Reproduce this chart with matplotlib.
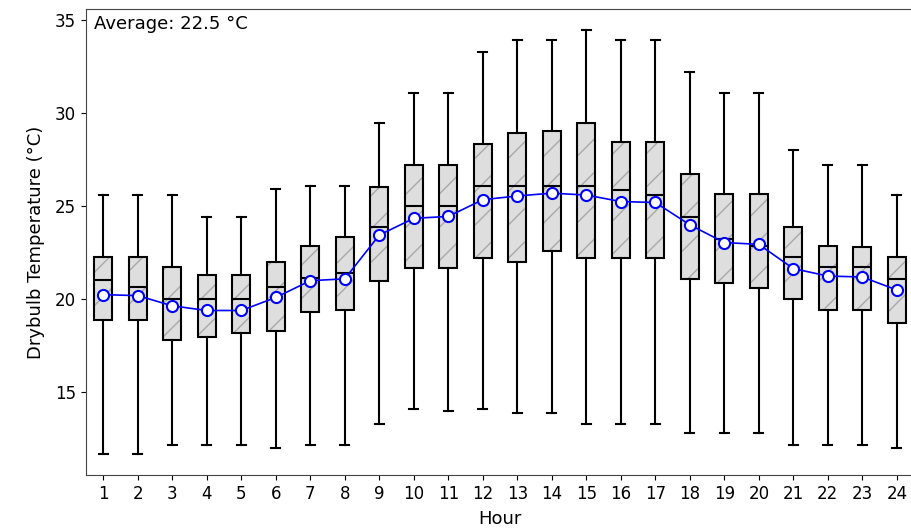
import matplotlib
matplotlib.use("Agg")
import matplotlib.pyplot as plt
import matplotlib.colors as mcolors

# Hourly drybulb temperature summary (deg C)
hours = list(range(1, 25))
whis_lo = [11.7, 11.7, 12.2, 12.2, 12.2, 12.0, 12.2, 12.2, 13.3, 14.1, 14.0, 14.1,
           13.9, 13.9, 13.3, 13.3, 13.3, 12.8, 12.8, 12.8, 12.2, 12.2, 12.2, 12.0]
q1 = [18.9, 18.9, 17.8, 18.0, 18.2, 18.3, 19.3, 19.4, 21.0, 21.7, 21.7, 22.2,
      22.0, 22.6, 22.2, 22.2, 22.2, 21.1, 20.9, 20.6, 20.0, 19.4, 19.4, 18.75]
med = [21.05, 20.65, 20.0, 20.0, 20.0, 20.65, 21.15, 21.4, 23.9, 25.0, 25.0, 26.1,
       26.1, 26.1, 26.1, 25.85, 25.6, 24.4, 23.25, 22.85, 22.25, 21.75, 21.75, 21.1]
q3 = [22.25, 22.25, 21.75, 21.3, 21.3, 22.0, 22.85, 23.35, 26.05, 27.2, 27.2, 28.35,
      28.95, 29.05, 29.45, 28.45, 28.45, 26.75, 25.65, 25.65, 23.9, 22.85, 22.8, 22.25]
whis_hi = [25.6, 25.6, 25.6, 24.4, 24.4, 25.9, 26.1, 26.1, 29.45, 31.1, 31.1, 33.3,
           33.9, 33.9, 34.45, 33.9, 33.9, 32.2, 31.1, 31.1, 28.0, 27.2, 27.2, 25.6]
mean = [20.25, 20.2, 19.65, 19.4, 19.4, 20.1, 21.0, 21.1, 23.45, 24.35, 24.45, 25.35,
        25.55, 25.7, 25.6, 25.25, 25.2, 24.0, 23.05, 22.95, 21.65, 21.25, 21.2, 20.5]
overall_avg = 22.5

stats = []
for i in range(len(hours)):
    stats.append(dict(med=med[i], q1=q1[i], q3=q3[i],
                      whislo=whis_lo[i], whishi=whis_hi[i], mean=mean[i]))

fig = plt.figure(figsize=(9.12, 5.32), dpi=100)
ax = fig.add_axes([0.0943, 0.107, 0.908, 0.876])

bp = ax.bxp(stats, positions=hours, widths=0.52, patch_artist=True, showfliers=False,
            boxprops=dict(facecolor="#dedede", edgecolor="black", linewidth=1.5, hatch="/"),
            whiskerprops=dict(color="black", linewidth=1.5),
            capprops=dict(color="black", linewidth=1.5),
            medianprops=dict(color="black", linewidth=1.5))
# grey hatch, black outline
for b in bp["boxes"]:
    b._hatch_color = mcolors.to_rgba("#a8a8a8")

ax.plot(hours, mean, color="blue", linewidth=1.2, marker="o", markersize=8,
        markerfacecolor="white", markeredgecolor="blue", markeredgewidth=1.5, zorder=5)

ax.text(0.01, 0.988, "Average: %.1f °C" % overall_avg, transform=ax.transAxes,
        ha="left", va="top", fontsize=13)

ax.set_xlim(0.5, 24.5)
ax.set_xticks(hours)
ax.set_xticklabels([str(h) for h in hours])
ax.tick_params(labelsize=12)
for s in ax.spines.values():
    s.set_color("#444444")
ax.set_xlabel("Hour", fontsize=13, labelpad=5)
ax.set_ylabel("Drybulb Temperature (°C)", fontsize=13, labelpad=7)

fig.savefig("out.png", dpi=100)
